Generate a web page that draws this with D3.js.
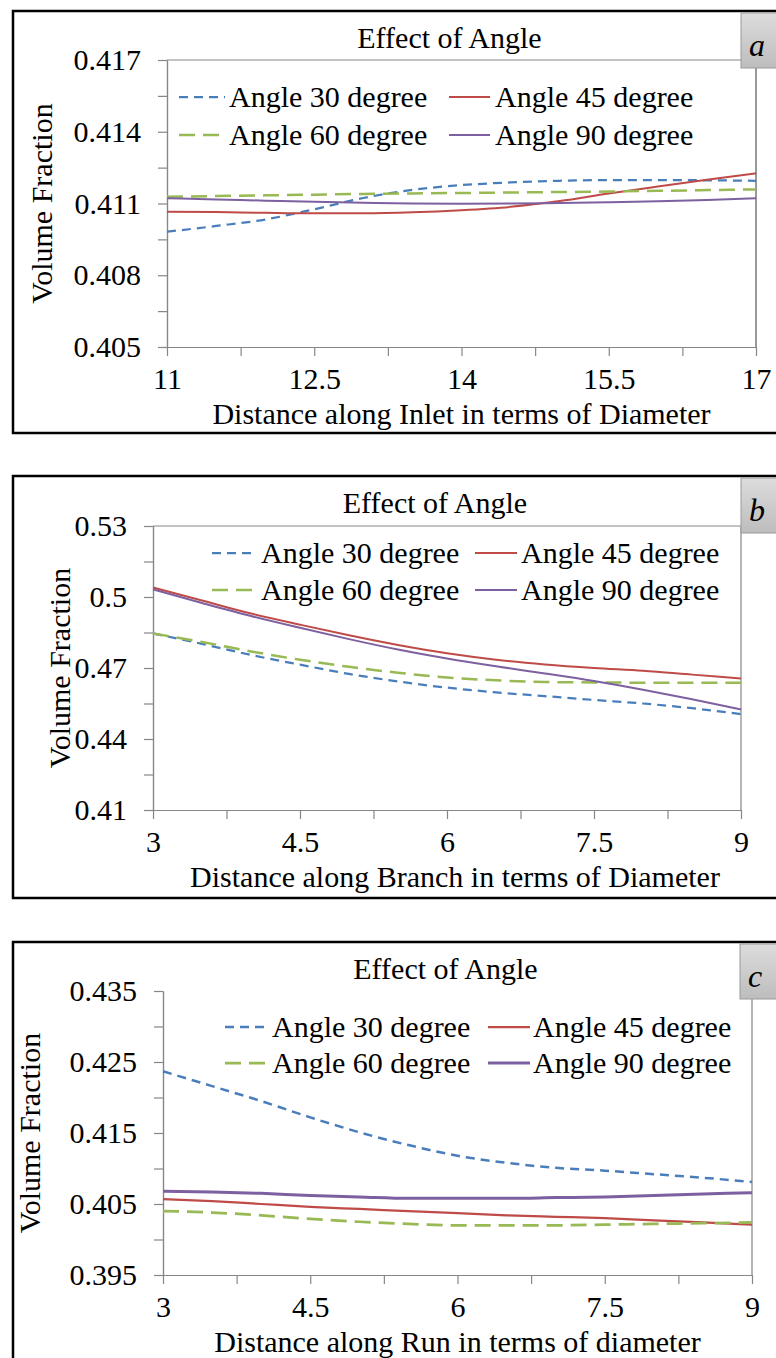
<!DOCTYPE html>
<html>
<head>
<meta charset="utf-8">
<script src="https://cdn.jsdelivr.net/npm/d3@7"></script>
<style>
  body { margin: 0; background: #fff; }
  svg { display: block; }
  svg text { font-family: "Liberation Serif", "Times New Roman", Tinos, "DejaVu Serif", serif; }
</style>
</head>
<body>
<svg id="chart" width="776" height="1358"></svg>
<script>
// ---- Data -------------------------------------------------------------
const seriesNames = ["Angle 30 degree", "Angle 45 degree", "Angle 60 degree", "Angle 90 degree"];

// (a) Distance along inlet
const inletX   = [11, 11.5, 12, 12.5, 13, 13.5, 14, 14.5, 15, 15.5, 16, 16.5, 17];
const inlet30  = [0.40982, 0.41006, 0.41033, 0.41076, 0.41123, 0.41157, 0.41177, 0.41188, 0.41195, 0.41198, 0.41198, 0.41197, 0.41195];
const inlet45  = [0.41066, 0.41064, 0.41061, 0.41059, 0.41059, 0.41063, 0.41072, 0.41086, 0.41110, 0.41142, 0.41171, 0.41199, 0.41226];
const inlet60  = [0.41128, 0.41131, 0.41134, 0.41137, 0.41140, 0.41142, 0.41144, 0.41146, 0.41148, 0.41150, 0.41153, 0.41156, 0.41159];
const inlet90  = [0.41122, 0.41117, 0.41112, 0.41107, 0.41103, 0.41100, 0.41099, 0.41100, 0.41102, 0.41105, 0.41109, 0.41115, 0.41122];
const inletYTicks = [0.405, 0.408, 0.411, 0.414, 0.417];
const inletYLabels = ["0.405", "0.408", "0.411", "0.414", "0.417"];
const inletXTicks = [11, 12.5, 14, 15.5, 17];
const inletXLabels = ["11", "12.5", "14", "15.5", "17"];

// (b) Distance along branch
const branchX  = [3, 3.5, 4, 4.5, 5, 5.5, 6, 6.5, 7, 7.5, 8, 8.5, 9];
const branch30 = [0.4846, 0.4802, 0.4755, 0.4714, 0.4675, 0.4643, 0.4617, 0.4597, 0.4581, 0.4565, 0.4550, 0.4530, 0.4505];
const branch45 = [0.5040, 0.4985, 0.4930, 0.4883, 0.4838, 0.4797, 0.4762, 0.4735, 0.4715, 0.4700, 0.4688, 0.4672, 0.4656];
const branch60 = [0.4846, 0.4810, 0.4770, 0.4735, 0.4705, 0.4680, 0.4660, 0.4648, 0.4641, 0.4639, 0.4638, 0.4638, 0.4638];
const branch90 = [0.5032, 0.4975, 0.4920, 0.4870, 0.4822, 0.4778, 0.4740, 0.4707, 0.4677, 0.4645, 0.4608, 0.4568, 0.4525];
const branchYTicks = [0.41, 0.44, 0.47, 0.5, 0.53];
const branchYLabels = ["0.41", "0.44", "0.47", "0.5", "0.53"];
const branchXTicks = [3, 4.5, 6, 7.5, 9];
const branchXLabels = ["3", "4.5", "6", "7.5", "9"];

// (c) Distance along run
const runX  = [3, 3.5, 4, 4.5, 5, 5.5, 6, 6.5, 7, 7.5, 8, 8.5, 9];
const run30 = [0.4237, 0.4216, 0.4195, 0.4172, 0.4151, 0.4133, 0.4118, 0.4108, 0.4101, 0.4097, 0.4092, 0.4087, 0.4081];
const run45 = [0.4057, 0.4054, 0.4050, 0.4046, 0.4043, 0.4040, 0.4037, 0.4034, 0.4032, 0.4030, 0.4027, 0.4024, 0.4021];
const run60 = [0.4040, 0.4038, 0.4034, 0.4029, 0.4025, 0.4022, 0.4020, 0.4020, 0.4020, 0.4021, 0.4022, 0.4023, 0.4024];
const run90 = [0.4068, 0.4067, 0.4065, 0.4062, 0.4060, 0.4058, 0.4058, 0.4058, 0.4059, 0.4060, 0.4062, 0.4064, 0.4066];
const runYTicks = [0.395, 0.405, 0.415, 0.425, 0.435];
const runYLabels = ["0.395", "0.405", "0.415", "0.425", "0.435"];
const runXTicks = [3, 4.5, 6, 7.5, 9];
const runXLabels = ["3", "4.5", "6", "7.5", "9"];

// ---- Styles -----------------------------------------------------------
const FS = 30;
const AXIS_GREY = "#868686";
const colors = ["#4a7ebb", "#be4b48", "#98b954", "#7d60a0"];
const dashes = ["9,6", null, "16,8", null];

const panels = [
  {
    tag: "a", boxTop: 11,
    plot: { left: 167, right: 756, top: 60, bottom: 347 },
    xs: inletX, ys: [inlet30, inlet45, inlet60, inlet90],
    yTicks: inletYTicks, yLabels: inletYLabels, xTicks: inletXTicks, xLabels: inletXLabels,
    xTitle: "Distance along Inlet in terms of Diameter", xTitleShift: 0,
    yTitleX: 42, tagX: 741, topLine: true, rightColor: "#555",
    widths: [2.25, 2, 2.5, 2],
    legend: { rows: [97, 135], cols: [[179, 225, 229], [449, 490, 495]] }
  },
  {
    tag: "b", boxTop: 476,
    plot: { left: 153, right: 741, top: 526, bottom: 810 },
    xs: branchX, ys: [branch30, branch45, branch60, branch90],
    yTicks: branchYTicks, yLabels: branchYLabels, xTicks: branchXTicks, xLabels: branchXLabels,
    xTitle: "Distance along Branch in terms of Diameter", xTitleShift: 8,
    yTitleX: 60, tagX: 741, topLine: true, rightColor: AXIS_GREY,
    widths: [2.25, 2, 2.5, 2],
    legend: { rows: [553, 590], cols: [[212, 257, 261], [475, 517, 521]] }
  },
  {
    tag: "c", boxTop: 942,
    plot: { left: 163, right: 752, top: 991, bottom: 1275 },
    xs: runX, ys: [run30, run45, run60, run90],
    yTicks: runYTicks, yLabels: runYLabels, xTicks: runXTicks, xLabels: runXLabels,
    xTitle: "Distance along Run in terms of diameter", xTitleShift: 0,
    yTitleX: 30, tagX: 740, topLine: false, rightColor: AXIS_GREY,
    widths: [2.5, 2.25, 2.75, 3],
    legend: { rows: [1027, 1063], cols: [[225, 270, 272], [488, 530, 533]] }
  }
];

const svg = d3.select("#chart");

// shared gradient for the corner tag boxes
const defs = svg.append("defs");
const grad = defs.append("linearGradient").attr("id", "tagGrad")
  .attr("x1", 0).attr("y1", 0).attr("x2", 0).attr("y2", 1);
grad.append("stop").attr("offset", "0%").attr("stop-color", "#dcdcdc");
grad.append("stop").attr("offset", "100%").attr("stop-color", "#bdbdbd");

function midpoints(arr) {
  const out = [];
  for (let i = 0; i < arr.length - 1; i++) out.push((arr[i] + arr[i + 1]) / 2);
  return out;
}

panels.forEach(p => {
  const g = svg.append("g");
  const P = p.plot;

  const x = d3.scaleLinear()
    .domain([p.xTicks[0], p.xTicks[p.xTicks.length - 1]])
    .range([P.left, P.right]);
  const y = d3.scaleLinear()
    .domain([p.yTicks[0], p.yTicks[p.yTicks.length - 1]])
    .range([P.bottom, P.top]);

  // outer frame (runs off the right edge)
  g.append("rect")
    .attr("x", 13).attr("y", p.boxTop)
    .attr("width", 900).attr("height", 422)
    .attr("fill", "#fff").attr("stroke", "#000").attr("stroke-width", 2.5);

  // plot frame: top and right edges
  if (p.topLine) {
    g.append("line")
      .attr("x1", P.left).attr("x2", P.right)
      .attr("y1", P.top).attr("y2", P.top)
      .attr("stroke", AXIS_GREY).attr("stroke-width", 1);
  }
  g.append("line")
    .attr("x1", P.right).attr("x2", P.right)
    .attr("y1", P.top).attr("y2", P.bottom)
    .attr("stroke", p.rightColor).attr("stroke-width", 1.2);

  // y axis (major + minor ticks)
  const yMajor = d3.axisLeft(y)
    .tickValues(p.yTicks)
    .tickFormat((d, i) => p.yLabels[i])
    .tickSize(9).tickSizeOuter(0).tickPadding(17);
  const yMinor = d3.axisLeft(y)
    .tickValues(midpoints(p.yTicks))
    .tickFormat("").tickSize(9).tickSizeOuter(0);
  g.append("g").attr("transform", `translate(${P.left},0)`).call(yMajor);
  g.append("g").attr("transform", `translate(${P.left},0)`).call(yMinor);

  // x axis (major + minor ticks)
  const xMajor = d3.axisBottom(x)
    .tickValues(p.xTicks)
    .tickFormat((d, i) => p.xLabels[i])
    .tickSize(9).tickSizeOuter(0).tickPadding(12);
  const xMinor = d3.axisBottom(x)
    .tickValues(midpoints(p.xTicks))
    .tickFormat("").tickSize(9).tickSizeOuter(0);
  g.append("g").attr("transform", `translate(0,${P.bottom})`).call(xMajor);
  g.append("g").attr("transform", `translate(0,${P.bottom})`).call(xMinor);

  g.selectAll("g").attr("font-family", null);
  g.selectAll(".domain, .tick line").attr("stroke", AXIS_GREY).attr("stroke-width", 1.2);
  g.selectAll(".tick text")
    .attr("fill", "#000")
    .style("font-size", FS + "px");

  // series
  const line = d3.line()
    .x((d, i) => x(p.xs[i]))
    .y(d => y(d))
    .curve(d3.curveMonotoneX);
  p.ys.forEach((vals, k) => {
    g.append("path")
      .datum(vals)
      .attr("d", line)
      .attr("fill", "none")
      .attr("stroke", colors[k])
      .attr("stroke-width", p.widths[k])
      .attr("stroke-dasharray", dashes[k]);
  });

  // legend: 2 x 2
  seriesNames.forEach((name, k) => {
    const row = p.legend.rows[Math.floor(k / 2)];
    const col = p.legend.cols[k % 2];
    g.append("line")
      .attr("x1", col[0]).attr("x2", col[1])
      .attr("y1", row).attr("y2", row)
      .attr("stroke", colors[k])
      .attr("stroke-width", p.widths[k])
      .attr("stroke-dasharray", dashes[k]);
    g.append("text")
      .attr("x", col[2]).attr("y", row + 10)
      .style("font-size", FS + "px")
      .text(name);
  });

  // chart title
  g.append("text")
    .attr("x", (P.left + P.right) / 2 - 12)
    .attr("y", p.boxTop + 37)
    .attr("text-anchor", "middle")
    .style("font-size", FS + "px")
    .text("Effect of Angle");

  // axis titles
  g.append("text")
    .attr("x", (P.left + P.right) / 2 + p.xTitleShift)
    .attr("y", P.bottom + 77)
    .attr("text-anchor", "middle")
    .style("font-size", FS + "px")
    .text(p.xTitle);
  g.append("text")
    .attr("transform", `translate(${p.yTitleX + 10},${(P.top + P.bottom) / 2}) rotate(-90)`)
    .attr("text-anchor", "middle")
    .style("font-size", FS + "px")
    .text("Volume Fraction");

  // corner tag box
  g.append("rect")
    .attr("x", p.tagX).attr("y", p.boxTop + 2)
    .attr("width", 80).attr("height", 55)
    .attr("fill", "url(#tagGrad)")
    .attr("stroke", "#9a9a9a").attr("stroke-width", 1);
  g.append("text")
    .attr("x", p.tagX + 8).attr("y", p.boxTop + 45)
    .style("font-size", "32px").style("font-style", "italic")
    .text(p.tag);
});
</script>
</body>
</html>
